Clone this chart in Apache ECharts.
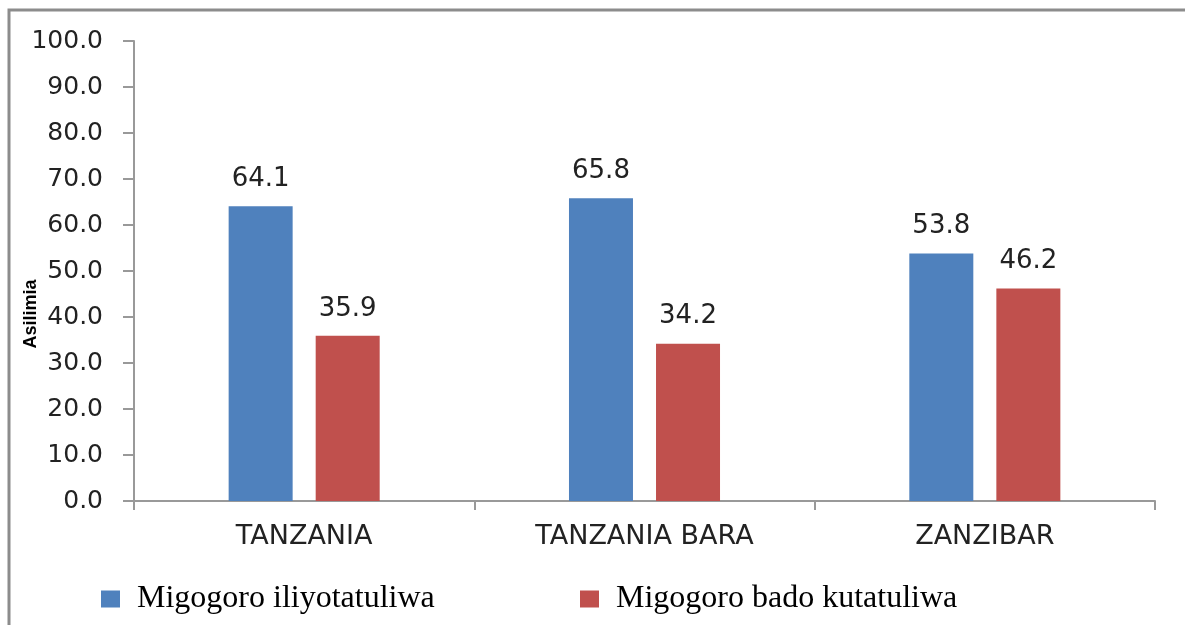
<!DOCTYPE html>
<html>
<head>
<meta charset="utf-8">
<script src="https://cdn.jsdelivr.net/npm/echarts@6/dist/echarts.min.js"></script>
<style>
  html, body { margin: 0; padding: 0; background: #fff; }
  #chart { width: 1185px; height: 625px; }
</style>
</head>
<body>
<div id="chart"></div>
<script>
// dati
const categories = ['TANZANIA', 'TANZANIA BARA', 'ZANZIBAR'];
const seriesNames = ['Migogoro iliyotatuliwa', 'Migogoro bado kutatuliwa'];
const resolved = [64.1, 65.8, 53.8];
const unresolved = [35.9, 34.2, 46.2];
const colors = ['#4F81BD', '#C0504D'];
const yTitle = 'Asilimia';

const chart = echarts.init(document.getElementById('chart'));

const barLabel = {
  show: true, position: 'top', distance: 14,
  fontFamily: 'DejaVu Sans', fontSize: 26, color: '#222',
  formatter: p => p.value.toFixed(1)
};

// una legenda per voce, per collocarle come nell'originale
const legendFor = (name, left) => ({
  left: left, top: 578,
  itemWidth: 19, itemHeight: 17, icon: 'rect',
  textStyle: { fontFamily: 'Liberation Serif', fontSize: 32, color: '#000', padding: [0, 0, 0, 12] },
  data: [name]
});

chart.setOption({
  animation: false,
  textStyle: { fontFamily: 'DejaVu Sans' },
  graphic: [{
    type: 'rect', silent: true,
    shape: { x: 9, y: 10, width: 1200, height: 700 },
    style: { fill: 'none', stroke: '#8c8c8c', lineWidth: 3 }
  }, {
    // titolo asse y, un po' sotto il centro come nell'originale
    type: 'text', silent: true, x: 31, y: 314, rotation: Math.PI / 2,
    style: {
      text: yTitle, fill: '#000', align: 'center', verticalAlign: 'middle',
      font: 'bold 18px "Liberation Sans"'
    }
  }],
  grid: { left: 134, right: 30, top: 41, bottom: 124 },
  legend: [legendFor(seriesNames[0], 96), legendFor(seriesNames[1], 575)],
  xAxis: {
    type: 'category', data: categories,
    axisLine: { lineStyle: { color: '#999', width: 2 } },
    axisTick: { show: true, length: 9, lineStyle: { color: '#999', width: 2 } },
    axisLabel: { margin: 22, fontSize: 27, color: '#222' }
  },
  yAxis: {
    type: 'value', min: 0, max: 100, interval: 10,
    axisLine: { show: true, lineStyle: { color: '#999', width: 2 } },
    axisTick: { show: true, length: 11, lineStyle: { color: '#999', width: 2 } },
    splitLine: { show: false },
    axisLabel: { margin: 31, fontSize: 25, color: '#222', formatter: v => v.toFixed(1) }
  },
  series: [
    { name: seriesNames[0], type: 'bar', data: resolved, barWidth: 64, barGap: '36%',
      itemStyle: { color: colors[0] }, label: barLabel },
    { name: seriesNames[1], type: 'bar', data: unresolved, barWidth: 64, barGap: '36%',
      itemStyle: { color: colors[1] }, label: barLabel }
  ]
});
</script>
</body>
</html>
